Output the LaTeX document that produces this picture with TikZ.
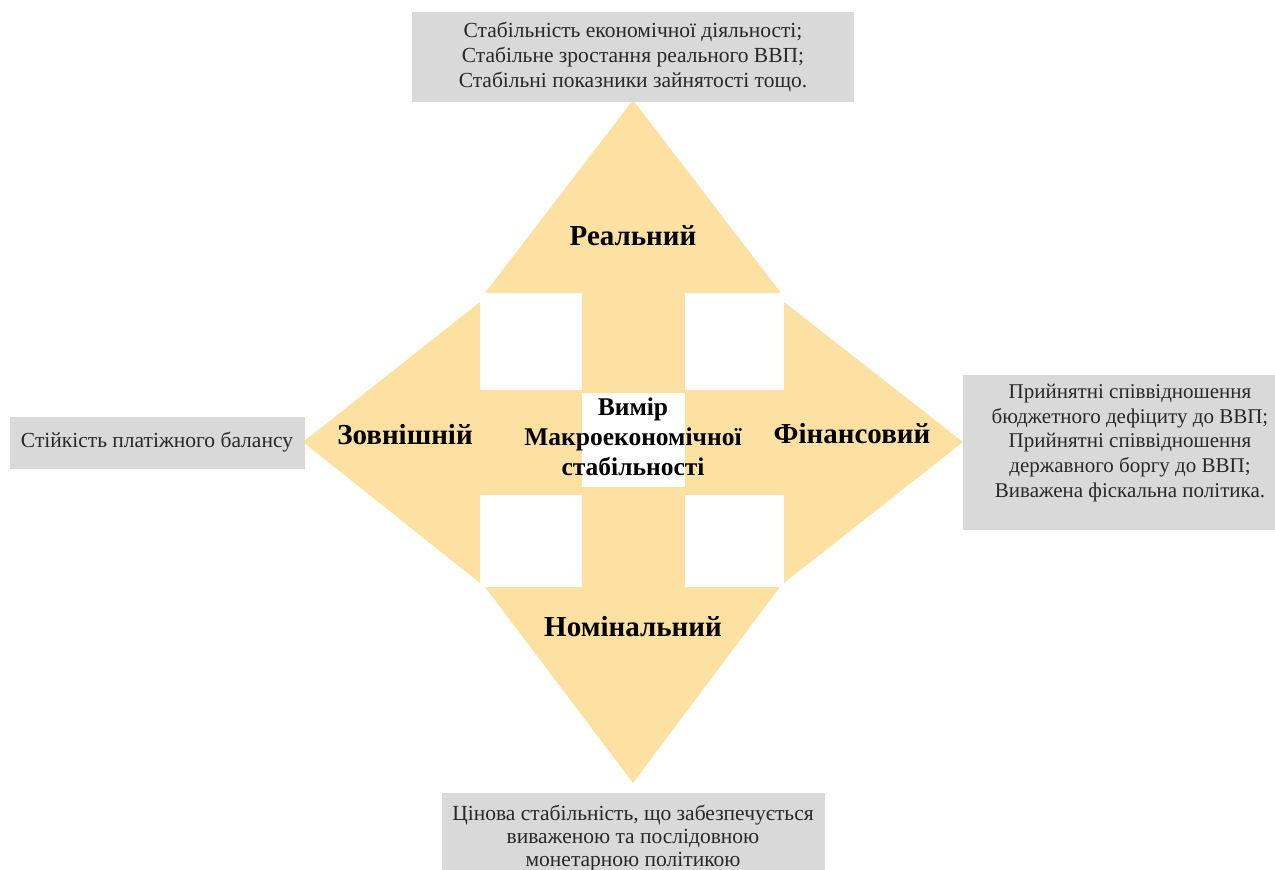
\documentclass[tikz,border=0pt]{standalone}
\usepackage{fontspec}
\setmainfont{Liberation Serif}
\definecolor{petal}{RGB}{253,225,162}
\definecolor{notebox}{RGB}{217,217,217}
\definecolor{ink}{RGB}{40,40,40}
\begin{document}
\begin{tikzpicture}[x=1pt,y=-1pt,
  note/.style={fill=notebox,draw=none},
  notetext/.style={align=center,text=ink,inner sep=0pt,
    font=\fontsize{21.5}{25}\selectfont},
  dimlabel/.style={text=black,inner sep=0pt,
    font=\bfseries\fontsize{29}{32}\selectfont},
  corelabel/.style={align=center,text=black,inner sep=0pt,
    font=\bfseries\fontsize{25.5}{30}\selectfont}]
\useasboundingbox (0,0) rectangle (1275,870);

% four arrow heads of the cross
\fill[petal] (633,100) -- (781,293) -- (485,293) -- cycle;
\fill[petal] (633,783) -- (780,587) -- (485,587) -- cycle;
\fill[petal] (303,442) -- (480,302) -- (480,583) -- cycle;
\fill[petal] (963,442) -- (784,302) -- (784,583) -- cycle;
% arms of the cross
\fill[petal] (582,293) rectangle (685,587);
\fill[petal] (480,390) rectangle (784,495);
% centre cell
\fill[white] (582,393) rectangle (685,487);

% note boxes
\fill[note] (412,12) rectangle (854,102);
\fill[note] (10,417) rectangle (305,469);
\fill[note] (963,375) rectangle (1275,530);
\fill[note] (442,793) rectangle (825,875);

\node[notetext] (real-note) at (633,57)
  {Стабільність економічної діяльності;\\
   Стабільне зростання реального ВВП;\\
   Стабільні показники зайнятості тощо.};
\node[notetext] (ext-note) at (157,442)
  {Стійкість платіжного балансу};
\node[notetext,font=\fontsize{21}{24.7}\selectfont] (fin-note) at (1130,443)
  {Прийнятні співвідношення\\
   бюджетного дефіциту до ВВП;\\
   Прийнятні співвідношення\\
   державного боргу до ВВП;\\
   Виважена фіскальна політика.};
\node[notetext,font=\fontsize{21.5}{23}\selectfont] (nom-note) at (633,838)
  {Цінова стабільність, що забезпечується\\
   виваженою та послідовною\\
   монетарною політикою};

% dimension labels
\node[dimlabel] (real) at (633,236) {Реальний};
\node[dimlabel] (ext) at (405,435) {Зовнішній};
\node[dimlabel] (fin) at (852,434) {Фінансовий};
\node[dimlabel] (nom) at (633,627) {Номінальний};
\node[corelabel] (core) at (633,437)
  {Вимір\\ Макроекономічної\\ стабільності};
\end{tikzpicture}
\end{document}
